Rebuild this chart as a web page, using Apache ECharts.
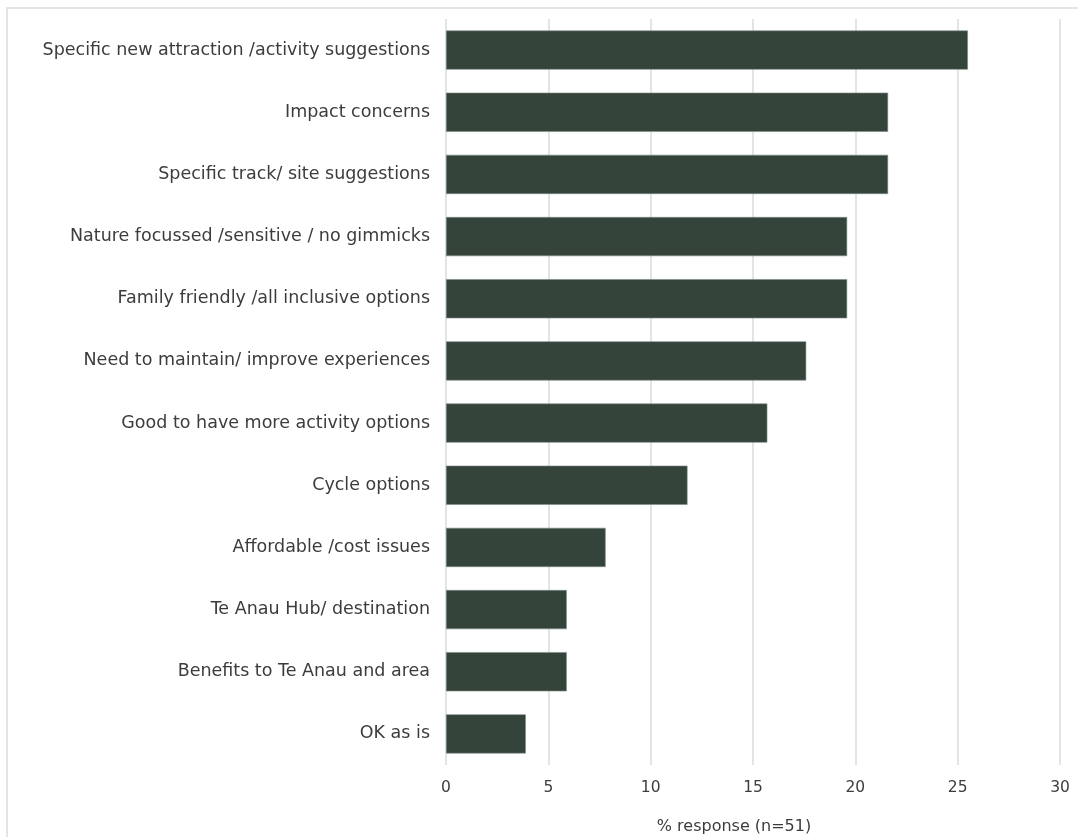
<!DOCTYPE html>
<html>
<head>
<meta charset="utf-8">
<style>
  html, body { margin: 0; padding: 0; background: #ffffff; overflow: hidden; }
  #frame {
    position: absolute; left: 6px; top: 7px; width: 1080px; height: 840px;
    border-top: 2px solid #e0e6e4; border-left: 2px solid #e0e6e4;
  }
  #chart { position: absolute; left: 0; top: 0; width: 1078px; height: 837px; }
</style>
<script src="https://cdn.jsdelivr.net/npm/echarts@6/dist/echarts.min.js"></script>
</head>
<body>
<div id="frame"></div>
<div id="chart"></div>
<script>
// Response themes, top to bottom
const categories = [
  'Specific new attraction /activity suggestions',
  'Impact concerns',
  'Specific track/ site suggestions',
  'Nature focussed /sensitive / no gimmicks',
  'Family friendly /all inclusive options',
  'Need to maintain/ improve experiences',
  'Good to have more activity options',
  'Cycle options',
  'Affordable /cost issues',
  'Te Anau Hub/ destination',
  'Benefits to Te Anau and area',
  'OK as is'
];
// % of respondents (n=51)
const percentages = [25.5, 21.6, 21.6, 19.6, 19.6, 17.6, 15.7, 11.8, 7.8, 5.9, 5.9, 3.9];
const xTicks = { min: 0, max: 30, interval: 5 };
const axisTitle = '% response (n=51)';

const FONT = '"DejaVu Sans", sans-serif';
const chart = echarts.init(document.getElementById('chart'), null, { renderer: 'canvas' });
chart.setOption({
  animation: false,
  grid: { left: 446, right: 18, top: 19, bottom: 72, containLabel: false, outerBoundsMode: 'none' },
  xAxis: {
    type: 'value',
    min: xTicks.min, max: xTicks.max, interval: xTicks.interval,
    name: axisTitle,
    nameLocation: 'middle',
    nameGap: 54,
    nameTextStyle: { fontFamily: FONT, fontSize: 16, color: '#3c3c3c', padding: [0, 38, 0, 0] },
    axisLine: { show: false },
    axisTick: { show: false },
    axisLabel: { fontFamily: FONT, fontSize: 15.5, color: '#3c3c3c', margin: 15 },
    splitLine: { lineStyle: { color: '#e0e6e4', width: 2 } }
  },
  yAxis: {
    type: 'category',
    data: categories,
    inverse: true,
    axisLine: { show: false },
    axisTick: { show: false },
    axisLabel: { fontFamily: FONT, fontSize: 17.5, color: '#3c3c3c', margin: 16, padding: [2, 0, 0, 0] }
  },
  series: [{
    type: 'bar',
    data: percentages,
    barWidth: '63%',
    itemStyle: { color: '#34443b', borderColor: '#7d8c85', borderWidth: 0.6 }
  }]
});
</script>
</body>
</html>
